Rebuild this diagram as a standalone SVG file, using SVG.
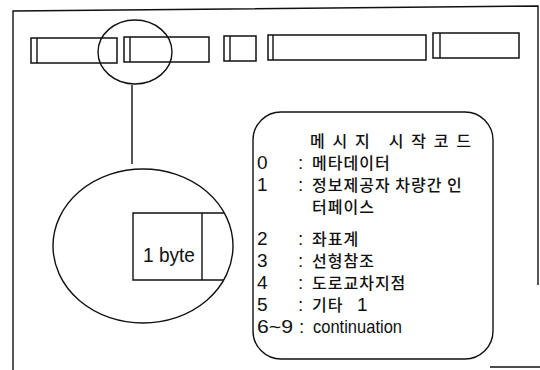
<svg xmlns="http://www.w3.org/2000/svg" width="540" height="370" viewBox="0 0 540 370">
<style>
.ln{fill:none;stroke:#111;stroke-width:1.4}
.bar{fill:#fff;stroke:#111;stroke-width:1.5}
.lat{font-family:"Liberation Sans",Arial,sans-serif;fill:#111}
.kr{font-family:"Noto Sans CJK KR","Noto Sans",sans-serif;font-size:16px;fill:#111;font-weight:500;letter-spacing:1px}
.num{font-family:"Liberation Sans",Arial,sans-serif;font-size:19px;fill:#111}
</style>
<rect width="540" height="370" fill="#fff"/>
<g id="frame">
<polyline class="ln" points="13,370 13,11 538,6 538,285"/>
<line class="ln" x1="490" y1="367" x2="540" y2="367"/>
</g>
<g id="bar1"><rect class="bar" x="31" y="38" width="86" height="25"/><line class="ln" x1="37" y1="38" x2="37" y2="63"/></g>
<g id="bar2"><rect class="bar" x="124" y="37" width="85" height="25"/><line class="ln" x1="130" y1="37" x2="130" y2="62"/></g>
<g id="bar3"><rect class="bar" x="224" y="36" width="32" height="25"/><line class="ln" x1="230" y1="36" x2="230" y2="61"/></g>
<g id="bar4"><rect class="bar" x="268" y="35" width="158" height="25"/><line class="ln" x1="273" y1="35" x2="273" y2="60"/></g>
<g id="bar5"><rect class="bar" x="433" y="33" width="86" height="25"/><line class="ln" x1="440" y1="33" x2="440" y2="58"/></g>
<g id="focus"><ellipse class="ln" cx="135" cy="52" rx="37" ry="32"/></g>
<g id="connectors"><line class="ln" x1="132" y1="85" x2="132" y2="164"/></g>
<g id="zoom">
<ellipse class="ln" cx="143" cy="246" rx="90" ry="77"/>
<polyline class="ln" points="224.3,213 133,213 133,280 223.7,280"/>
<line class="ln" x1="202" y1="213" x2="202" y2="280"/>
<text class="lat" x="143" y="262" font-size="21" textLength="52" lengthAdjust="spacingAndGlyphs">1 byte</text>
</g>
<g id="legend">
<rect class="ln" x="253" y="112" width="240" height="247" rx="28" ry="28"/>
<text class="kr" x="310" y="147" textLength="162">메시지 시작코드</text>
<text class="num" x="257" y="169">0</text><text class="num" x="298" y="169">:</text><text class="kr" x="312" y="169">메타데이터</text>
<text class="num" x="257" y="191">1</text><text class="num" x="298" y="191">:</text><text class="kr" x="312" y="191">정보제공자 차량간 인</text>
<text class="kr" x="312" y="213">터페이스</text>
<text class="num" x="257" y="245">2</text><text class="num" x="298" y="245">:</text><text class="kr" x="312" y="245">좌표계</text>
<text class="num" x="257" y="267">3</text><text class="num" x="298" y="267">:</text><text class="kr" x="312" y="267">선형참조</text>
<text class="num" x="257" y="289">4</text><text class="num" x="298" y="289">:</text><text class="kr" x="312" y="289">도로교차지점</text>
<text class="num" x="257" y="311">5</text><text class="num" x="298" y="311">:</text><text class="kr" x="312" y="311">기타</text><text class="num" x="357" y="311" font-size="18">1</text>
<text class="num" x="257" y="333" textLength="36" lengthAdjust="spacingAndGlyphs">6~9</text><text class="num" x="299" y="333">:</text><text class="num" x="313" y="333" textLength="89" lengthAdjust="spacingAndGlyphs">continuation</text>
</g>
</svg>
